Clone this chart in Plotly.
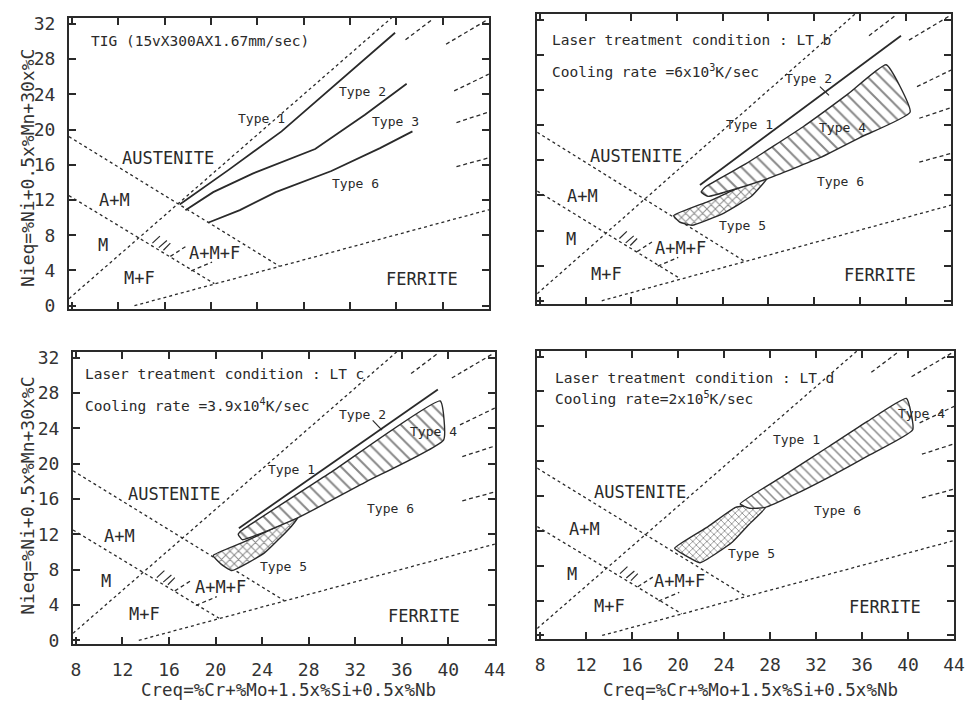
import plotly.graph_objects as go

FONT = "DejaVu Sans Mono"
INK = "#2a2a2a"

X_RANGE = [7.75, 44.0]
Y_RANGE = [-0.4, 32.7]
X_TICKS = [8, 12, 16, 20, 24, 28, 32, 36, 40, 44]
Y_TICKS = [0, 4, 8, 12, 16, 20, 24, 28, 32]
X_TITLE = "Creq=%Cr+%Mo+1.5x%Si+0.5x%Nb"
Y_TITLE = "Nieq=%Ni+0.5x%Mn+30x%C"

# Schaeffler diagram boundaries (shared by all panels)
A_LINE_X = [7.75, 25.9]
A_LINE_Y = [19.2, 4.5]
M_LINE_X = [7.75, 20.3]
M_LINE_Y = [12.5, 2.5]
F_LINE_X = [13.4, 44.0]
F_LINE_Y = [0.0, 10.9]
Z_LINE_X = [7.75, 35.6]
Z_LINE_Y = [0.8, 32.7]

# ferrite-percentage stubs near right edge
STUB_X = [[36.8, 39.2], [40.3, 43.9], [41.0, 44.0], [41.2, 44.0], [41.2, 44.0]]
STUB_Y = [[30.2, 32.6], [29.7, 32.5], [24.4, 26.3], [20.8, 22.0], [15.8, 16.8]]

# short strokes in A+M+F field
HATCH_X = [[14.95, 15.6], [15.5, 16.2], [15.9, 16.5]]
HATCH_Y = [[7.1, 7.9], [6.6, 7.4], [6.3, 7.1]]
AMF_X = [[16.5, 17.8], [18.3, 20.1]]
AMF_Y = [[5.6, 6.7], [3.95, 4.95]]

REGION_TEXT = ["AUSTENITE", "A+M", "M", "M+F", "A+M+F", "FERRITE"]
TL_REGION_X = [16.3, 11.7, 10.7, 13.8, 20.3, 38.2]
TL_REGION_Y = [16.8, 12.0, 6.9, 3.2, 6.0, 3.0]
TR_REGION_X = [16.4, 11.7, 10.7, 13.8, 20.3, 37.8]
TR_REGION_Y = [16.5, 11.9, 7.0, 3.1, 6.0, 2.9]
BL_REGION_X = [16.4, 11.7, 10.6, 13.9, 20.4, 37.9]
BL_REGION_Y = [16.6, 11.8, 6.7, 3.0, 6.0, 2.8]
BR_REGION_X = [16.7, 11.9, 10.8, 14.0, 20.1, 38.0]
BR_REGION_Y = [16.5, 12.2, 7.1, 3.4, 6.2, 3.25]

# Panel (a): TIG
TL_T12_X = [17.3, 21.5, 26.1, 31.8, 35.9]
TL_T12_Y = [11.5, 15.4, 19.8, 26.3, 31.0]
TL_T23_X = [17.8, 20.2, 23.6, 29.0, 33.3, 36.9]
TL_T23_Y = [10.85, 12.9, 15.0, 17.8, 21.7, 25.2]
TL_T36_X = [19.8, 22.5, 25.6, 30.4, 34.6, 37.4]
TL_T36_Y = [9.45, 10.85, 12.9, 15.3, 17.9, 19.8]
TL_LABELS = ["Type 1", "Type 2", "Type 3", "Type 6"]
TL_LABEL_X = [24.4, 33.1, 35.9, 32.5]
TL_LABEL_Y = [21.3, 24.3, 20.9, 13.9]

# Panel (b): LT b
TR_T2_X = [22.0, 39.6]
TR_T2_Y = [13.2, 30.2]
TR_T4_X = [22.5, 26.0, 31.0, 35.0, 38.3, 40.4, 36.0, 32.5, 27.9, 22.7, 22.1]
TR_T4_Y = [13.0, 15.6, 19.8, 23.6, 26.9, 21.5, 18.6, 16.3, 13.9, 11.9, 12.4]
TR_T5_X = [19.7, 22.7, 25.3, 27.9, 26.5, 24.1, 21.3, 20.2]
TR_T5_Y = [9.7, 11.3, 12.8, 14.0, 11.9, 10.0, 8.6, 9.0]
TR_LABELS = ["Type 1", "Type 2", "Type 4", "Type 5", "Type 6"]
TR_LABEL_X = [26.3, 31.5, 34.5, 25.7, 34.3]
TR_LABEL_Y = [20.1, 25.3, 19.8, 8.6, 13.6]

# Panel (c): LT c
BL_T2_X = [22.0, 39.1]
BL_T2_Y = [12.7, 28.4]
BL_T4_X = [22.2, 30.0, 39.3, 39.6, 33.0, 27.1, 22.3, 21.95]
BL_T4_Y = [12.4, 19.1, 27.1, 22.7, 18.0, 13.9, 11.4, 12.0]
BL_T5_X = [19.8, 22.2, 24.5, 27.1, 26.5, 24.2, 21.4, 20.5]
BL_T5_Y = [9.6, 11.0, 12.4, 14.0, 12.9, 9.9, 7.9, 8.6]
BL_LABELS = ["Type 1", "Type 2", "Type 4", "Type 5", "Type 6"]
BL_LABEL_X = [26.5, 32.6, 38.7, 25.8, 35.0]
BL_LABEL_Y = [19.4, 25.6, 23.6, 8.4, 14.9]

# Panel (d): LT d
BR_T4_X = [25.4, 29.0, 33.0, 36.5, 39.85, 40.4, 36.5, 33.3, 30.0, 27.6, 26.2]
BR_T4_Y = [15.1, 18.2, 21.6, 24.6, 27.2, 23.6, 20.6, 18.3, 16.1, 14.7, 14.6]
BR_T5_X = [19.7, 22.5, 25.0, 26.5, 27.6, 26.2, 24.7, 21.9, 20.6]
BR_T5_Y = [10.0, 12.4, 14.7, 15.0, 14.7, 12.8, 10.7, 8.35, 9.2]
BR_LABELS = ["Type 1", "Type 4", "Type 5", "Type 6"]
BR_LABEL_X = [30.3, 41.2, 26.4, 33.9]
BR_LABEL_Y = [22.5, 25.5, 9.4, 14.3]

# leader ticks at the "Type 2" labels
TR_LEADER_X = [32.5, 33.3]
TR_LEADER_Y = [24.4, 23.4]
BL_LEADER_X = [33.5, 34.3]
BL_LEADER_Y = [24.9, 23.8]

TITLES_TL = ["TIG (15vX300AX1.67mm/sec)"]
TITLES_TR = ["Laser treatment condition : LT b", "Cooling rate =6x10<sup>3</sup>K/sec"]
TITLES_BL = ["Laser treatment condition : LT c", "Cooling rate =3.9x10<sup>4</sup>K/sec"]
TITLES_BR = ["Laser treatment condition : LT d", "Cooling rate=2x10<sup>5</sup>K/sec"]
TITLE_X = [9.45, 8.9, 8.6, 9.1]
TITLE_Y_TL = [30.1]
TITLE_Y_TR = [29.7, 26.2]
TITLE_Y_BL = [30.1, 26.6]
TITLE_Y_BR = [29.6, 27.2]

# frame positions (paper fractions)
DOM_X = [[0.0686, 0.5051], [0.5553, 0.9857], [0.0728, 0.5113], [0.5553, 0.9887]]
DOM_Y = [[0.5621, 0.9802], [0.5692, 0.9859], [0.0819, 0.5014], [0.0890, 0.5028]]

fig = go.Figure()


def refs(p):
    s = "" if p == 1 else str(p)
    return "x" + s, "y" + s


def line(p, xs, ys, dash=None, width=1.3):
    xr, yr = refs(p)
    fig.add_trace(go.Scatter(x=xs, y=ys, mode="lines", xaxis=xr, yaxis=yr,
                             line=dict(color=INK, width=width, dash=dash),
                             hoverinfo="skip", showlegend=False))


def region(p, xs, ys, shape, size, solidity):
    xr, yr = refs(p)
    fig.add_trace(go.Scatter(x=xs + xs[:1], y=ys + ys[:1], mode="lines", fill="toself",
                             xaxis=xr, yaxis=yr, fillcolor="rgba(0,0,0,0)",
                             fillpattern=dict(shape=shape, fgcolor="#111", bgcolor="white",
                                              size=size, solidity=solidity),
                             line=dict(color=INK, width=1.4, shape="spline", smoothing=0.4),
                             hoverinfo="skip", showlegend=False))


def text(p, s, x, y, size, anchor="center"):
    xr, yr = refs(p)
    fig.add_annotation(x=x, y=y, xref=xr, yref=yr, text=s, showarrow=False,
                       xanchor=anchor, yanchor="middle",
                       font=dict(family=FONT, size=size, color=INK))


for p in (1, 2, 3, 4):
    line(p, A_LINE_X, A_LINE_Y, dash="3px,3px")
    line(p, M_LINE_X, M_LINE_Y, dash="3px,3px")
    line(p, F_LINE_X, F_LINE_Y, dash="3px,3px")
    line(p, Z_LINE_X, Z_LINE_Y, dash="3px,3px")
    for sx, sy in zip(STUB_X, STUB_Y):
        line(p, sx, sy, dash="4px,3px")
    for sx, sy in zip(HATCH_X, HATCH_Y):
        line(p, sx, sy, width=1.2)
    for sx, sy in zip(AMF_X, AMF_Y):
        line(p, sx, sy, dash="4px,3px")

# panel-specific
line(1, TL_T12_X, TL_T12_Y, width=1.8)
line(1, TL_T23_X, TL_T23_Y, width=1.8)
line(1, TL_T36_X, TL_T36_Y, width=1.8)

region(2, TR_T5_X, TR_T5_Y, "x", 6, 0.3)
region(2, TR_T4_X, TR_T4_Y, "\\", 9, 0.22)
line(2, TR_T2_X, TR_T2_Y, width=1.8)
line(2, TR_LEADER_X, TR_LEADER_Y, width=1.2)

region(3, BL_T5_X, BL_T5_Y, "x", 6, 0.3)
region(3, BL_T4_X, BL_T4_Y, "\\", 9, 0.22)
line(3, BL_T2_X, BL_T2_Y, width=1.8)
line(3, BL_LEADER_X, BL_LEADER_Y, width=1.2)

region(4, BR_T5_X, BR_T5_Y, "x", 5, 0.3)
region(4, BR_T4_X, BR_T4_Y, "\\", 7, 0.22)

REG_X = [TL_REGION_X, TR_REGION_X, BL_REGION_X, BR_REGION_X]
REG_Y = [TL_REGION_Y, TR_REGION_Y, BL_REGION_Y, BR_REGION_Y]
for p in (1, 2, 3, 4):
    for s, x, y in zip(REGION_TEXT, REG_X[p - 1], REG_Y[p - 1]):
        text(p, s, x, y, 17)

for p, labs, lx, ly in [(1, TL_LABELS, TL_LABEL_X, TL_LABEL_Y),
                        (2, TR_LABELS, TR_LABEL_X, TR_LABEL_Y),
                        (3, BL_LABELS, BL_LABEL_X, BL_LABEL_Y),
                        (4, BR_LABELS, BR_LABEL_X, BR_LABEL_Y)]:
    for s, x, y in zip(labs, lx, ly):
        text(p, s, x, y, 13)

for p, titles, ys in [(1, TITLES_TL, TITLE_Y_TL), (2, TITLES_TR, TITLE_Y_TR),
                      (3, TITLES_BL, TITLE_Y_BL), (4, TITLES_BR, TITLE_Y_BR)]:
    for s, y in zip(titles, ys):
        text(p, s, TITLE_X[p - 1], y, 14.5, anchor="left")

layout = dict(width=976, height=708, margin=dict(l=0, r=0, t=0, b=0),
              paper_bgcolor="white", plot_bgcolor="white", showlegend=False)
for p in (1, 2, 3, 4):
    s = "" if p == 1 else str(p)
    common = dict(showgrid=False, zeroline=False, showline=True, mirror="ticks",
                  linecolor=INK, linewidth=2, ticks="inside", ticklen=7, tickwidth=1.5,
                  tickcolor=INK, tickfont=dict(family=FONT, size=18, color="#333"))
    layout["xaxis" + s] = dict(common, domain=DOM_X[p - 1], range=X_RANGE,
                               tickvals=X_TICKS, anchor="y" + s,
                               showticklabels=p in (3, 4), ticklabelstandoff=8)
    layout["yaxis" + s] = dict(common, domain=DOM_Y[p - 1], range=Y_RANGE,
                               tickvals=Y_TICKS, anchor="x" + s,
                               showticklabels=p in (1, 3), ticklabelstandoff=8)
fig.update_layout(**layout)

for yc in (1 - 167 / 708, 1 - 500 / 708):
    fig.add_annotation(x=25 / 976, y=yc, xref="paper", yref="paper", text=Y_TITLE,
                       textangle=-90, showarrow=False, xanchor="center", yanchor="middle",
                       font=dict(family=FONT, size=18, color="#333"))
for xc in (290 / 976, 758 / 976):
    fig.add_annotation(x=xc, y=1 - 697 / 708, xref="paper", yref="paper", text=X_TITLE,
                       showarrow=False, xanchor="center", yanchor="middle",
                       font=dict(family=FONT, size=17.5, color="#333"))

fig.write_html("out.html")
